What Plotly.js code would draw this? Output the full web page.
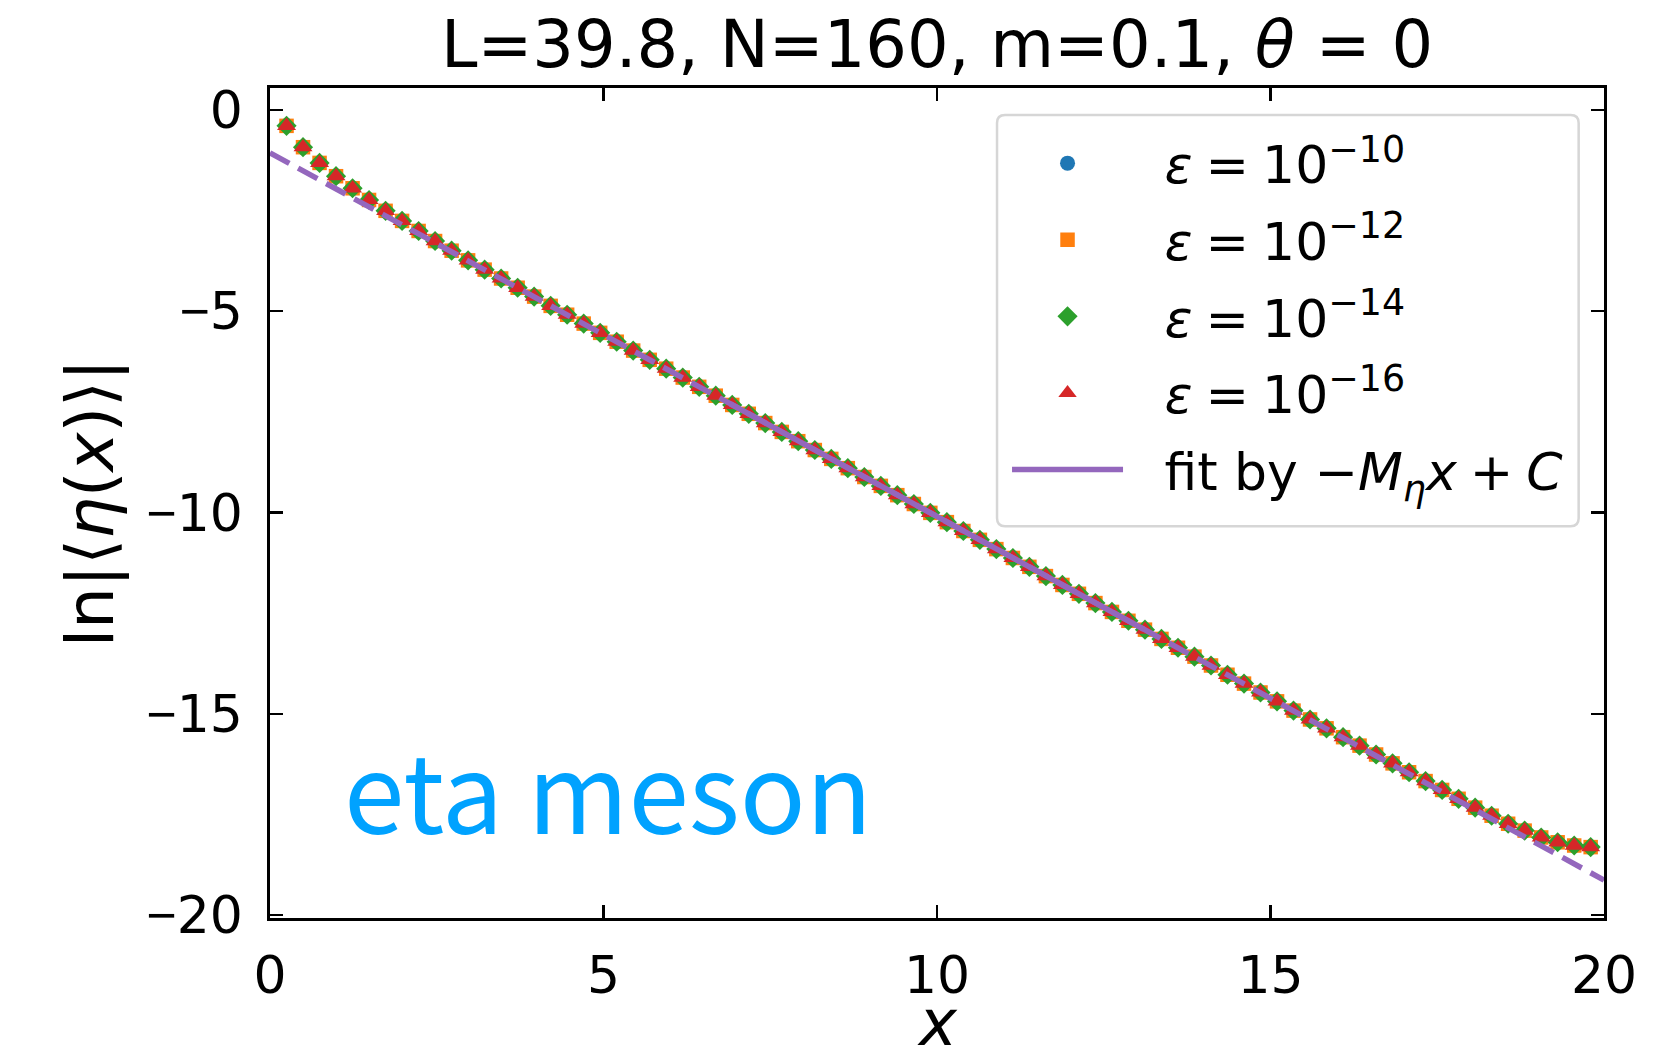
<!DOCTYPE html>
<html>
<head>
<meta charset="utf-8">
<script src="https://cdn.plot.ly/plotly-3.0.1.min.js"></script>
<style>
  html, body { margin: 0; padding: 0; background: #ffffff; }
  #chart { width: 1676px; height: 1049px; }
</style>
</head>
<body>
<div id="chart"></div>
<script>
// Separation x between the two operator insertions (lattice sites k = 1..80)
const separation = [
  0.248, 0.495, 0.743, 0.990, 1.238, 1.485, 1.733, 1.980, 2.228, 2.475,
  2.723, 2.970, 3.218, 3.465, 3.713, 3.960, 4.208, 4.455, 4.703, 4.950,
  5.198, 5.445, 5.693, 5.940, 6.188, 6.435, 6.683, 6.930, 7.178, 7.425,
  7.673, 7.920, 8.168, 8.415, 8.663, 8.910, 9.158, 9.405, 9.653, 9.900,
  10.148, 10.395, 10.643, 10.890, 11.138, 11.385, 11.633, 11.880, 12.128, 12.375,
  12.623, 12.870, 13.118, 13.365, 13.613, 13.860, 14.108, 14.355, 14.603, 14.850,
  15.098, 15.345, 15.593, 15.840, 16.088, 16.335, 16.583, 16.830, 17.078, 17.325,
  17.573, 17.820, 18.068, 18.315, 18.563, 18.810, 19.058, 19.305, 19.553, 19.800
];

// ln|<eta(x)>| ; the four truncation tolerances agree to plotting precision
const lnEta = [
  -0.40, -0.93, -1.32, -1.65, -1.95, -2.24, -2.51, -2.76, -3.01, -3.26,
  -3.50, -3.74, -3.97, -4.19, -4.42, -4.64, -4.87, -5.09, -5.31, -5.54,
  -5.76, -5.98, -6.21, -6.43, -6.65, -6.88, -7.10, -7.33, -7.55, -7.78,
  -8.00, -8.23, -8.45, -8.67, -8.90, -9.12, -9.34, -9.57, -9.79, -10.01,
  -10.24, -10.46, -10.68, -10.91, -11.13, -11.35, -11.58, -11.80, -12.02, -12.25,
  -12.47, -12.69, -12.91, -13.14, -13.36, -13.58, -13.80, -14.03, -14.25, -14.47,
  -14.69, -14.92, -15.14, -15.36, -15.58, -15.79, -16.01, -16.23, -16.45, -16.67,
  -16.89, -17.11, -17.33, -17.53, -17.73, -17.90, -18.07, -18.19, -18.27, -18.31
];
const lnEtaEps10 = lnEta;
const lnEtaEps12 = lnEta;
const lnEtaEps14 = lnEta;
const lnEtaEps16 = lnEta;

const GAP = '\u2002\u2009';      // space between legend symbol and label
const MS = '\u2005';             // math-style spacing around operators
const epsLabels = [
  GAP + '<i>ε</i>' + MS + '=' + MS + '10<sup>−10</sup>',
  GAP + '<i>ε</i>' + MS + '=' + MS + '10<sup>−12</sup>',
  GAP + '<i>ε</i>' + MS + '=' + MS + '10<sup>−14</sup>',
  GAP + '<i>ε</i>' + MS + '=' + MS + '10<sup>−16</sup>'
];
const fitLabel = GAP + 'fit by −<i>M</i><sub><i>η</i></sub><i>x</i>' + MS + '+' + MS + '<i>C</i>';

// Linear fit  ln|<eta>| = -M_eta x + C
const fitMass = 0.903;
const fitConst = -1.07;
const fitWindow = [6.9, 13.1];   // range used for the fit (solid)
const plotWindow = [0, 20];      // extension over the whole axis (dashed)

const xTicks = [0, 5, 10, 15, 20];
const yTicks = [-20, -15, -10, -5, 0];
const MINUS = '<span style="font-family:Liberation Sans">−</span>';
const yTickText = [MINUS + '20', MINUS + '15', MINUS + '10', MINUS + '5', '0'];

const FONT = 'DejaVu Sans';
const colors = ['#1f77b4', '#ff7f0e', '#2ca02c', '#d62728', '#9467bd'];
const symbols = ['circle', 'square', 'diamond', 'triangle-up'];
const sizes = [15, 14.5, 15.5, 16.5];
const series = [lnEtaEps10, lnEtaEps12, lnEtaEps14, lnEtaEps16];

const fitLine = xs => xs.map(x => -fitMass * x + fitConst);

const traces = series.map((ys, i) => ({
  type: 'scatter',
  mode: 'markers',
  x: separation,
  y: ys,
  name: epsLabels[i],
  legendgroup: 'g' + i,
  marker: { symbol: symbols[i], size: sizes[i], color: colors[i], line: { width: 0 } }
}));

traces.push({
  type: 'scatter', mode: 'lines',
  x: plotWindow, y: fitLine(plotWindow),
  showlegend: false, hoverinfo: 'skip',
  line: { color: colors[4], width: 5.5, dash: '22px,10px' }
});
traces.push({
  type: 'scatter', mode: 'lines',
  x: fitWindow, y: fitLine(fitWindow),
  name: fitLabel,
  legendgroup: 'g4',
  line: { color: colors[4], width: 5.5 }
});

// rounded legend frame (paper coordinates)
function roundedRect(x0, y0, x1, y1, rx, ry) {
  return `M${x0 + rx},${y1} L${x1 - rx},${y1} Q${x1},${y1} ${x1},${y1 - ry} ` +
         `L${x1},${y0 + ry} Q${x1},${y0} ${x1 - rx},${y0} L${x0 + rx},${y0} ` +
         `Q${x0},${y0} ${x0},${y0 + ry} L${x0},${y1 - ry} Q${x0},${y1} ${x0 + rx},${y1} Z`;
}

const axisCommon = {
  showline: true, linecolor: '#000', linewidth: 2.7,
  mirror: 'ticks', ticks: 'inside', ticklen: 13, tickwidth: 2.5, tickcolor: '#000',
  showgrid: false, zeroline: false,
  tickfont: { family: FONT, size: 52, color: '#000' }
};

const layout = {
  width: 1676, height: 1049,
  margin: { l: 270, r: 72, t: 88, b: 131 },
  paper_bgcolor: '#fff', plot_bgcolor: '#fff',
  showlegend: true,
  title: {
    text: 'L=39.8, N=160, m=0.1, <i>θ</i> = 0',
    font: { family: FONT, size: 65.5, color: '#000' },
    x: 0.5, xref: 'paper', xanchor: 'center',
    y: 0.958, yref: 'container', yanchor: 'middle'
  },
  xaxis: Object.assign({}, axisCommon, {
    range: [0, 20], tickvals: xTicks, ticklabelstandoff: 10
  }),
  yaxis: Object.assign({}, axisCommon, {
    range: [-20.07, 0.54], tickvals: yTicks, ticktext: yTickText, ticklabelstandoff: 14,
    title: { text: 'ln|⟨<i>η</i>(<i>x</i>)⟩|', font: { family: FONT, size: 66, color: '#000' }, standoff: 12 }
  }),
  legend: {
    x: 0.5525, y: 0.958, xanchor: 'left', yanchor: 'top',
    bgcolor: 'rgba(0,0,0,0)', borderwidth: 0,
    font: { family: FONT, size: 52, color: '#000' },
    traceorder: 'grouped', tracegroupgap: 6, itemwidth: 111
  },
  shapes: [{
    type: 'path', xref: 'paper', yref: 'paper', layer: 'above',
    path: roundedRect(0.545, 0.472, 0.981, 0.9675, 0.006, 0.0096),
    fillcolor: 'rgba(255,255,255,0.8)',
    line: { color: '#d6d6d6', width: 2.5 }
  }],
  annotations: [
    {
      // x-axis title, placed below the tick labels
      text: '<i>x</i>', xref: 'paper', yref: 'paper',
      x: 0.5, y: -0.1265, xanchor: 'center', yanchor: 'middle', showarrow: false,
      font: { family: FONT, size: 64, color: '#000' }
    },
    {
      text: 'eta meson', xref: 'paper', yref: 'paper',
      x: 0.054, y: 0.159, xanchor: 'left', yanchor: 'middle', showarrow: false,
      font: { family: 'Noto Sans CJK JP', size: 109, color: '#00a2ff' }
    }
  ]
};

Plotly.newPlot('chart', traces, layout, { displayModeBar: false, staticPlot: true });
</script>
</body>
</html>
